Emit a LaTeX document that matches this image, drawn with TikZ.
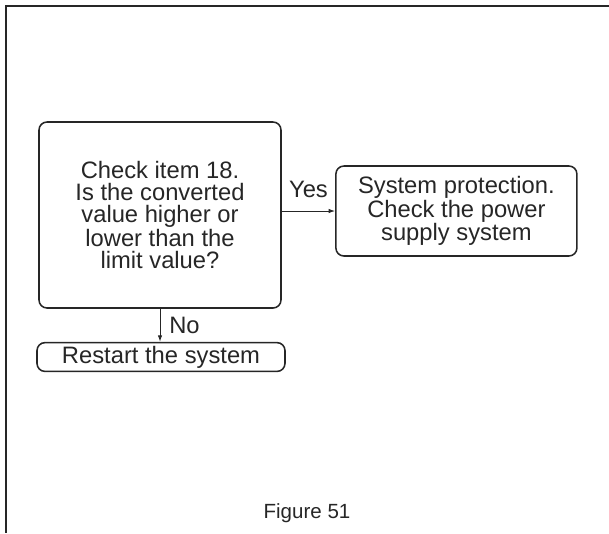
\documentclass[tikz,border=0pt]{standalone}
\usepackage{fontspec}
\setmainfont{Liberation Sans}
\usetikzlibrary{arrows.meta,positioning}

\begin{document}
\begin{tikzpicture}[
  >={Latex[length=0.16cm,width=0.11cm]},
  font=\fontsize{16.9}{15.6}\selectfont,
  color=black!85,
  box/.style={draw, line width=1.1pt, rounded corners=0.2cm, rectangle, align=center, inner sep=0pt},
  lbl/.style={inner sep=0pt},
  arr/.style={->, line width=0.7pt},
  frame/.style={line width=1.5pt}
]
\useasboundingbox (0,0) rectangle (15.225,-13.325);
\coordinate (ftop) at (15.225,-0.15);
\coordinate (fcorner) at (0.15,-0.15);
\coordinate (fbot) at (0.15,-13.325);
\draw[frame] (ftop) -- (fcorner) -- (fbot);

\node[box, minimum width=6.05cm, minimum height=4.65cm] (check) at (4.0,-5.375) {Check item 18.\\Is the converted\\value higher or\\lower than the\\limit value?};
\node[box, minimum width=6.025cm, minimum height=2.25cm] (protect) at (11.41,-5.275) {System protection.\\Check the power\\supply system};
\node[box, minimum width=6.2cm, minimum height=0.72cm] (restart) at (4.025,-8.925) {Restart the system};
\node[font=\fontsize{14.6}{16}\selectfont] (fig) at (7.675,-12.825) {Figure 51};

\draw[arr] (check.east |- protect.west) -- node[lbl, midway, above=0.33cm] (yes) {Yes} (protect.west);
\draw[arr] (check.south) -- node[lbl, midway, right=0.22cm] (no) {No} (check.south |- restart.north);
\end{tikzpicture}
\end{document}
